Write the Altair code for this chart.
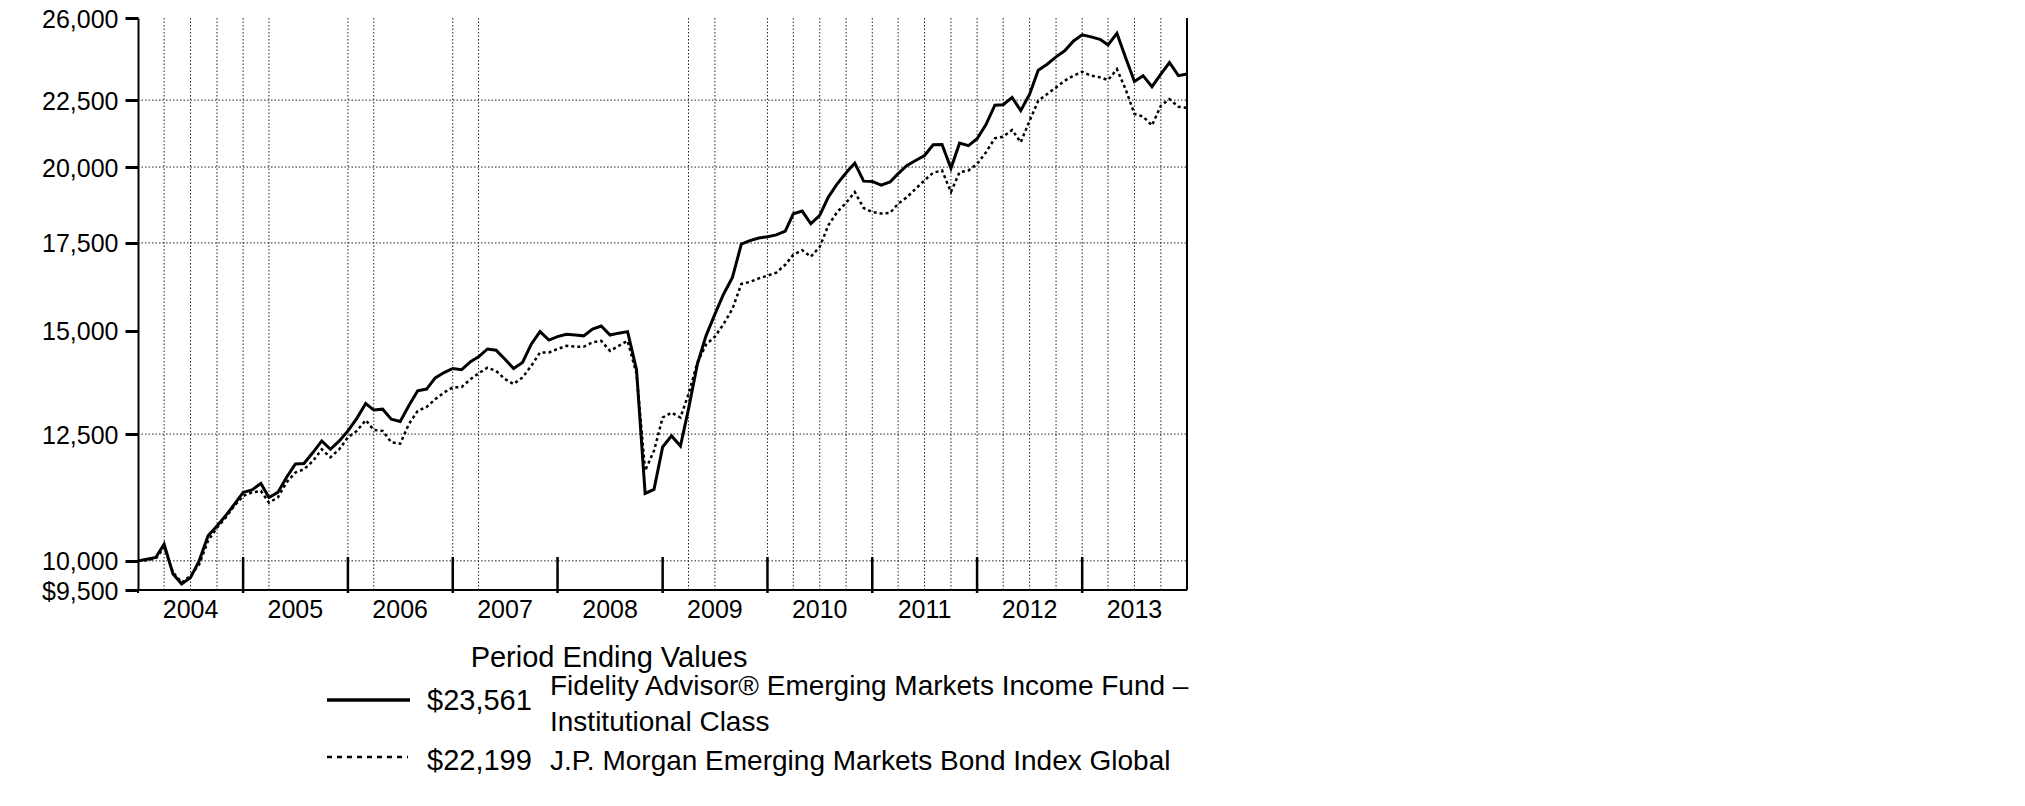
import altair as alt
import pandas as pd

# ---------------- data ----------------
# month-end observations, Dec 2003 .. Dec 2013 (121 points)
months = [f"{2003 + (11 + i) // 12}-{(11 + i) % 12 + 1:02d}-01T00:00:00" for i in range(121)]

fund_values = [
    10000, 10030, 10060, 10300, 9770, 9600, 9710, 10000, 10450, 10635, 10825, 11050,
    11280, 11330, 11460, 11180, 11280, 11580, 11860, 11870, 12100, 12350, 12170, 12350,
    12570, 12850, 13190, 13040, 13060, 12830, 12780, 13140, 13490, 13530, 13800, 13930,
    14030, 14000, 14200, 14320, 14520, 14490, 14260, 14030, 14180, 14650, 14970, 14750,
    14840, 14900, 14880, 14860, 15040, 15120, 14880, 14930, 14970, 14000, 11260, 11340,
    12220, 12460, 12240, 13060, 14140, 14860, 15440, 15990, 16470, 17460, 17570, 17650,
    17690, 17750, 17870, 18420, 18510, 18100, 18370, 18970, 19420, 19800, 20140, 19510,
    19500, 19370, 19480, 19770, 20060, 20230, 20410, 20800, 20810, 19960, 20860, 20770,
    21020, 21550, 22300, 22320, 22610, 22090, 22740, 23720, 23970, 24280, 24540, 24970,
    25240, 25150, 25040, 24800, 25310, 24250, 23250, 23490, 23040, 23550, 24040, 23490,
    23561,
]

index_values = [
    10000, 10012, 10040, 10240, 9800, 9625, 9740, 9940, 10360, 10600, 10790, 11020,
    11210, 11280, 11310, 11080, 11180, 11480, 11680, 11750, 11920, 12170, 12000, 12170,
    12430, 12570, 12810, 12590, 12570, 12320, 12290, 12720, 13020, 13110, 13290, 13450,
    13570, 13580, 13770, 13910, 14050, 13970, 13770, 13650, 13810, 14100, 14430, 14430,
    14520, 14600, 14580, 14580, 14690, 14730, 14470, 14600, 14730, 13900, 11720, 12140,
    12870, 12980, 12870, 13410, 14180, 14630, 14840, 15170, 15580, 16280, 16340, 16440,
    16520, 16610, 16840, 17140, 17280, 17080, 17380, 18050, 18480, 18780, 19140, 18610,
    18480, 18430, 18450, 18750, 18970, 19250, 19540, 19800, 19880, 19140, 19820, 19880,
    20110, 20530, 21040, 21100, 21350, 20890, 21700, 22480, 22740, 23010, 23280, 23490,
    23650, 23490, 23420, 23310, 23760, 22940, 21960, 21860, 21520, 22280, 22540, 22240,
    22199,
]

y_ticks = [9500, 10000, 12500, 15000, 17500, 20000, 22500, 26000]
h_grid_values = [10000, 12500, 17500, 20000, 22500]
v_grid_dates = [
    "2004-03-01T00:00:00", "2004-06-01T00:00:00", "2004-09-01T00:00:00",
    "2004-12-01T00:00:00", "2005-03-01T00:00:00",
    "2005-12-01T00:00:00", "2006-03-01T00:00:00",
    "2006-12-01T00:00:00", "2007-03-01T00:00:00",
    "2009-03-01T00:00:00", "2009-06-01T00:00:00",
    "2009-12-01T00:00:00", "2010-03-01T00:00:00", "2010-06-01T00:00:00", "2010-09-01T00:00:00",
    "2010-12-01T00:00:00", "2011-03-01T00:00:00", "2011-06-01T00:00:00", "2011-09-01T00:00:00",
    "2011-12-01T00:00:00", "2012-03-01T00:00:00", "2012-06-01T00:00:00", "2012-09-01T00:00:00",
    "2012-12-01T00:00:00", "2013-03-01T00:00:00", "2013-06-01T00:00:00", "2013-09-01T00:00:00",
]
years = ["2004", "2005", "2006", "2007", "2008", "2009", "2010", "2011", "2012", "2013"]
year_label_dates = [f"{y}-06-01T00:00:00" for y in years]
year_tick_dates = [f"{y}-12-01T00:00:00" for y in years[:-1]]

fund_name_1 = "Fidelity Advisor® Emerging Markets Income Fund –"
fund_name_2 = "Institutional Class"
index_name = "J.P. Morgan Emerging Markets Bond Index Global"
fund_end = "$23,561"
index_end = "$22,199"
legend_title = "Period Ending Values"

# ---------------- frames ----------------
df_fund = pd.DataFrame({"date": months, "value": fund_values})
df_index = pd.DataFrame({"date": months, "value": index_values})
df_hgrid = pd.DataFrame({"value": h_grid_values})
df_vgrid = pd.DataFrame({"date": v_grid_dates})
df_years = pd.DataFrame({"date": year_label_dates, "year": years})
df_yticks = pd.DataFrame({"date": year_tick_dates})

FONT = "Liberation Sans"
W, H = 1049, 572

xscale = alt.Scale(nice=False)
yscale = alt.Scale(type="log", domain=[9500, 26000], nice=False)

x_enc = alt.X("date:T", scale=xscale, axis=None)
y_axis = alt.Axis(values=y_ticks, title=None, grid=False,
                  labelExpr="datum.value == 9500 ? '$9,500' : format(datum.value, ',')",
                  labelFont=FONT, labelFontSize=25, labelColor="black",
                  labelOverlap=False, labelPadding=7, labelBaseline="middle",
                  labelOffset=1,
                  tickSize=13, tickWidth=3, tickColor="black",
                  domainColor="black", domainWidth=2)
y_enc = alt.Y("value:Q", scale=yscale, axis=y_axis)

hgrid = alt.Chart(df_hgrid).mark_rule(color="#222", strokeWidth=1, strokeDash=[1.5, 2]).encode(
    y=y_enc, x=alt.value(0), x2=alt.value(W),
)
vgrid = alt.Chart(df_vgrid).mark_rule(color="#222", strokeWidth=1, strokeDash=[1.5, 2]).encode(
    x=x_enc, y=alt.value(0), y2=alt.value(H),
)
year_ticks = alt.Chart(df_yticks).mark_rule(color="black", strokeWidth=2.5).encode(
    x=x_enc, y=alt.value(539), y2=alt.value(575),
)
frame = pd.DataFrame({"d": [0]})
right_border = alt.Chart(frame).mark_rule(color="black", strokeWidth=2).encode(
    x=alt.value(W), y=alt.value(0), y2=alt.value(H),
)
bottom_axis = alt.Chart(frame).mark_rule(color="black", strokeWidth=2).encode(
    x=alt.value(0), x2=alt.value(W), y=alt.value(H),
)
left_corner_tick = alt.Chart(frame).mark_rule(color="black", strokeWidth=2).encode(
    x=alt.value(0), y=alt.value(H), y2=alt.value(575),
)
year_labels = alt.Chart(df_years).mark_text(
    font=FONT, fontSize=25, color="black", align="center", baseline="alphabetic"
).encode(x=x_enc, y=alt.value(600), text="year:N")

index_line = alt.Chart(df_index).mark_line(
    color="black", strokeWidth=2.5, strokeDash=[3, 3]
).encode(x=x_enc, y=y_enc)
fund_line = alt.Chart(df_fund).mark_line(
    color="black", strokeWidth=3
).encode(x=x_enc, y=y_enc)


def txt(s, x, y, size, align="left"):
    return alt.Chart(pd.DataFrame({"t": [s]})).mark_text(
        font=FONT, fontSize=size, color="black", align=align, baseline="alphabetic"
    ).encode(text="t:N", x=alt.value(x), y=alt.value(y))


def legend_line(x1, x2, y, dash=None, width=3):
    kw = dict(color="black", strokeWidth=width)
    if dash:
        kw["strokeDash"] = dash
    return alt.Chart(pd.DataFrame({"d": [0]})).mark_rule(**kw).encode(
        x=alt.value(x1), x2=alt.value(x2), y=alt.value(y)
    )


legend = [
    txt(legend_title, 471, 649, 29, align="center"),
    legend_line(189, 272, 682, width=3.5),
    txt(fund_end, 289, 692, 29),
    txt(fund_name_1, 412, 677, 28),
    txt(fund_name_2, 412, 713, 28),
    legend_line(189, 270, 739, dash=[5, 5], width=2.5),
    txt(index_end, 289, 752, 29),
    txt(index_name, 412, 752, 28),
]

chart = alt.layer(
    hgrid, vgrid, year_ticks, right_border, bottom_axis, left_corner_tick,
    year_labels, index_line, fund_line, *legend
).properties(
    width=W, height=H,
    padding={"left": 130, "top": 10, "right": 20, "bottom": 200},
    autosize=alt.AutoSizeParams(type="none"),
).configure_view(stroke=None).configure_axis(grid=False)

chart.save("out.html", embed_options={"renderer": "svg", "actions": False})
